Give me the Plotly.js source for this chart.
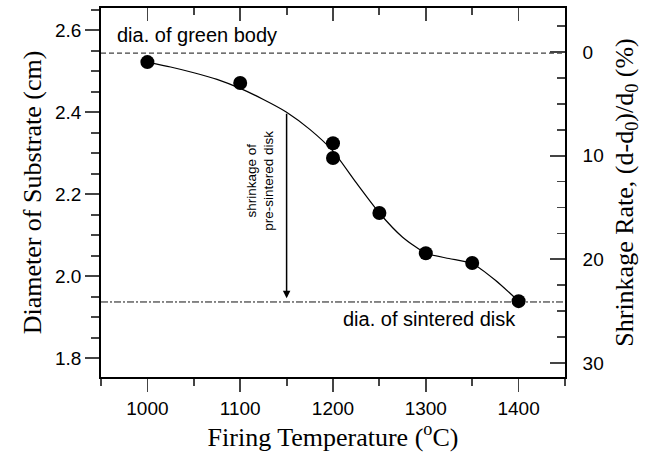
<!DOCTYPE html>
<html>
<head>
<meta charset="utf-8">
<script src="https://cdn.plot.ly/plotly-3.0.1.min.js"></script>
<style>html,body{margin:0;padding:0;background:#fff;}#chart{width:657px;height:459px;}</style>
</head>
<body>
<div id="chart"></div>
<script>
// measured points
const tempPts = [1000, 1100, 1200, 1200, 1250, 1300, 1350, 1400];
const diaPts  = [2.522, 2.471, 2.324, 2.288, 2.154, 2.056, 2.032, 1.939];
// fitted curve
const tempCurve = [1000, 1025, 1050, 1075, 1100, 1125, 1150, 1175, 1200, 1225, 1250, 1275, 1300, 1325, 1350, 1375, 1400];
const diaCurve  = [2.522, 2.510, 2.496, 2.480, 2.458, 2.431, 2.400, 2.358, 2.305, 2.228, 2.154, 2.095, 2.056, 2.043, 2.031, 1.990, 1.939];
// reference levels
const greenBody = 2.544;
const sinteredDisk = 1.937;
const xSpan = [950, 1450];
// arrow
const arrowX = 1150, arrowTop = 2.40, arrowTip = 1.946;

const serif = '"Liberation Serif", "Times New Roman", serif';
const sans = '"Liberation Sans", Arial, sans-serif';

const traces = [
  {x: xSpan, y: [greenBody, greenBody], mode: 'lines', line: {color: '#111', width: 1, dash: '5px,3px'}, hoverinfo: 'skip', showlegend: false},
  {x: xSpan, y: [sinteredDisk, sinteredDisk], mode: 'lines', line: {color: '#111', width: 1, dash: '7px,2px,2px,2px'}, hoverinfo: 'skip', showlegend: false},
  {x: tempCurve, y: diaCurve, mode: 'lines', line: {color: '#000', width: 1.2, shape: 'spline', smoothing: 0.6}, showlegend: false},
  {x: tempPts, y: diaPts, mode: 'markers', marker: {color: '#000', size: 14}, showlegend: false},
  {x: [1000], y: [0], xaxis: 'x2', yaxis: 'y2', mode: 'markers', marker: {opacity: 0}, hoverinfo: 'skip', showlegend: false}
];

const layout = {
  width: 657, height: 459,
  margin: {l: 101, r: 92, t: 8, b: 82},
  paper_bgcolor: '#fff', plot_bgcolor: '#fff',
  font: {family: sans, color: '#000', size: 19},
  xaxis: {
    range: xSpan, tick0: 1000, dtick: 100, ticks: 'outside', ticklen: 13, tickwidth: 1.8,
    minor: {dtick: 50, ticklen: 7, tickwidth: 1.8, ticks: 'outside', showgrid: false},
    showline: true, linewidth: 1.8, linecolor: '#000', showgrid: false, zeroline: false,
    tickfont: {family: sans, size: 19},
    title: {text: 'Firing Temperature (<sup>o</sup>C)', font: {family: serif, size: 26}, standoff: 8}
  },
  xaxis2: {
    overlaying: 'x', side: 'top', matches: 'x', range: xSpan, tick0: 1000, dtick: 100,
    ticks: 'inside', ticklen: 13, tickwidth: 1.8,
    minor: {dtick: 50, ticklen: 7, tickwidth: 1.8, ticks: 'inside', showgrid: false},
    showticklabels: false, showline: true, linewidth: 1.8, linecolor: '#000', showgrid: false, zeroline: false
  },
  yaxis: {
    range: [1.754, 2.654], tick0: 1.8, dtick: 0.2, tickformat: '.1f', ticks: 'outside', ticklen: 14, tickwidth: 1.8,
    minor: {dtick: 0.05, ticklen: 8, tickwidth: 1.8, ticks: 'outside', showgrid: false},
    showline: true, linewidth: 1.8, linecolor: '#000', showgrid: false, zeroline: false,
    tickfont: {family: sans, size: 19},
    title: {text: 'Diameter of Substrate (cm)', font: {family: serif, size: 26}, standoff: 6}
  },
  yaxis2: {
    overlaying: 'y', side: 'right', range: [31.35, -4.24], tick0: 0, dtick: 10,
    ticks: 'inside', ticklen: 15, tickwidth: 1.8, ticklabelstandoff: 12,
    minor: {dtick: 2.5, ticklen: 8, tickwidth: 1.8, ticks: 'inside', showgrid: false},
    showline: true, linewidth: 1.8, linecolor: '#000', showgrid: false, zeroline: false,
    tickfont: {family: sans, size: 19},
    title: {text: 'Shrinkage Rate, (d-d<sub>0</sub>)/d<sub>0</sub> (%)', font: {family: serif, size: 26}, standoff: 12}
  },
  annotations: [
    {x: 1053, y: 2.588, xref: 'x', yref: 'y', text: 'dia. of green body', showarrow: false, font: {family: sans, size: 20}},
    {x: 1304, y: 1.895, xref: 'x', yref: 'y', text: 'dia. of sintered disk', showarrow: false, font: {family: sans, size: 20}},
    {x: arrowX, y: arrowTip, ax: arrowX, ay: arrowTop, xref: 'x', yref: 'y', axref: 'x', ayref: 'y',
     text: '', showarrow: true, arrowhead: 2, arrowsize: 1, arrowwidth: 1.5, arrowcolor: '#000'},
    {x: 1121, y: 2.232, xref: 'x', yref: 'y', text: 'shrinkage of<br>pre-sintered disk', textangle: -90,
     showarrow: false, font: {family: sans, size: 13.5}}
  ]
};

Plotly.newPlot('chart', traces, layout, {staticPlot: true, displayModeBar: false});
</script>
</body>
</html>
